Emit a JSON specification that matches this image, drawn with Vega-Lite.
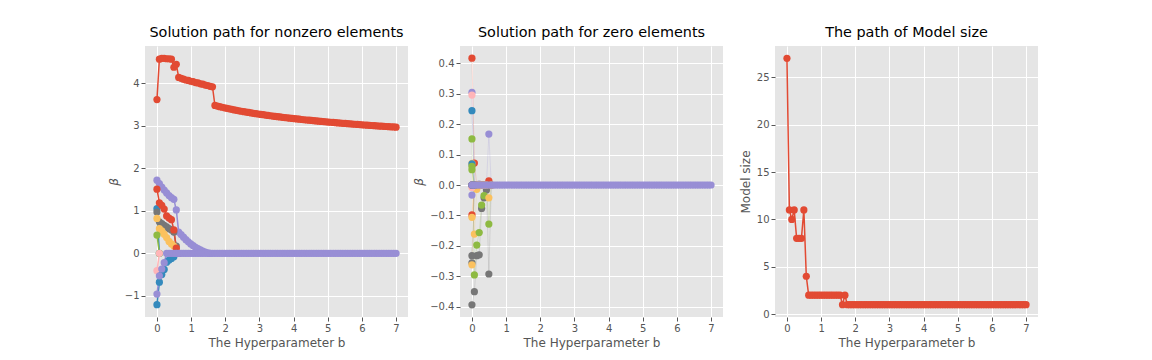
{
"$schema": "https://vega.github.io/schema/vega-lite/v6.json",
"background": "white",
"padding": {"left": 107, "top": 24, "right": 5, "bottom": 5},
"config": {
 "font": "DejaVu Sans",
 "view": {"fill": "#E5E5E5", "stroke": null},
 "axis": {"grid": true, "gridColor": "white", "gridWidth": 1, "domain": false, "tickColor": "#555555", "tickSize": 4, "tickWidth": 1, "labelColor": "#555555", "labelFontSize": 10, "labelPadding": 2, "titleColor": "#555555", "titleFontSize": 12, "titleFontWeight": "normal", "labelFont": "DejaVu Sans", "titleFont": "DejaVu Sans", "titlePadding": 4},
 "title": {"fontSize": 14.4, "fontWeight": "normal", "font": "DejaVu Sans", "color": "black", "offset": 6}
},
"datasets": {
 "nz": [
  {"k":0,"x":0,"y":3.62},{"k":0,"x":0.071,"y":4.57},{"k":0,"x":0.141,"y":4.59},{"k":0,"x":0.212,"y":4.59},{"k":0,"x":0.283,"y":4.58},{"k":0,"x":0.354,"y":4.58},{"k":0,"x":0.424,"y":4.57},{"k":0,"x":0.495,"y":4.38},{"k":0,"x":0.566,"y":4.45},{"k":0,"x":0.636,"y":4.14},
  {"k":0,"x":0.707,"y":4.12},{"k":0,"x":0.778,"y":4.1},{"k":0,"x":0.848,"y":4.08},{"k":0,"x":0.919,"y":4.07},{"k":0,"x":0.99,"y":4.05},{"k":0,"x":1.061,"y":4.04},{"k":0,"x":1.131,"y":4.02},{"k":0,"x":1.202,"y":4.01},{"k":0,"x":1.273,"y":3.99},{"k":0,"x":1.343,"y":3.98},
  {"k":0,"x":1.414,"y":3.96},{"k":0,"x":1.485,"y":3.95},{"k":0,"x":1.556,"y":3.93},{"k":0,"x":1.626,"y":3.92},{"k":0,"x":1.697,"y":3.48},{"k":0,"x":1.768,"y":3.465},{"k":0,"x":1.838,"y":3.451},{"k":0,"x":1.909,"y":3.438},{"k":0,"x":1.98,"y":3.424},{"k":0,"x":2.051,"y":3.412},
  {"k":0,"x":2.121,"y":3.4},{"k":0,"x":2.192,"y":3.388},{"k":0,"x":2.263,"y":3.376},{"k":0,"x":2.333,"y":3.365},{"k":0,"x":2.404,"y":3.355},{"k":0,"x":2.475,"y":3.344},{"k":0,"x":2.545,"y":3.334},{"k":0,"x":2.616,"y":3.324},{"k":0,"x":2.687,"y":3.315},{"k":0,"x":2.758,"y":3.305},
  {"k":0,"x":2.828,"y":3.296},{"k":0,"x":2.899,"y":3.287},{"k":0,"x":2.97,"y":3.279},{"k":0,"x":3.04,"y":3.27},{"k":0,"x":3.111,"y":3.262},{"k":0,"x":3.182,"y":3.254},{"k":0,"x":3.253,"y":3.246},{"k":0,"x":3.323,"y":3.238},{"k":0,"x":3.394,"y":3.23},{"k":0,"x":3.465,"y":3.223},
  {"k":0,"x":3.535,"y":3.216},{"k":0,"x":3.606,"y":3.209},{"k":0,"x":3.677,"y":3.202},{"k":0,"x":3.747,"y":3.195},{"k":0,"x":3.818,"y":3.188},{"k":0,"x":3.889,"y":3.181},{"k":0,"x":3.96,"y":3.175},{"k":0,"x":4.03,"y":3.169},{"k":0,"x":4.101,"y":3.162},{"k":0,"x":4.172,"y":3.156},
  {"k":0,"x":4.242,"y":3.15},{"k":0,"x":4.313,"y":3.144},{"k":0,"x":4.384,"y":3.138},{"k":0,"x":4.455,"y":3.133},{"k":0,"x":4.525,"y":3.127},{"k":0,"x":4.596,"y":3.121},{"k":0,"x":4.667,"y":3.116},{"k":0,"x":4.737,"y":3.11},{"k":0,"x":4.808,"y":3.105},{"k":0,"x":4.879,"y":3.1},
  {"k":0,"x":4.949,"y":3.095},{"k":0,"x":5.02,"y":3.09},{"k":0,"x":5.091,"y":3.085},{"k":0,"x":5.162,"y":3.08},{"k":0,"x":5.232,"y":3.075},{"k":0,"x":5.303,"y":3.07},{"k":0,"x":5.374,"y":3.065},{"k":0,"x":5.444,"y":3.06},{"k":0,"x":5.515,"y":3.056},{"k":0,"x":5.586,"y":3.051},
  {"k":0,"x":5.657,"y":3.047},{"k":0,"x":5.727,"y":3.042},{"k":0,"x":5.798,"y":3.038},{"k":0,"x":5.869,"y":3.033},{"k":0,"x":5.939,"y":3.029},{"k":0,"x":6.01,"y":3.025},{"k":0,"x":6.081,"y":3.02},{"k":0,"x":6.152,"y":3.016},{"k":0,"x":6.222,"y":3.012},{"k":0,"x":6.293,"y":3.008},
  {"k":0,"x":6.364,"y":3.004},{"k":0,"x":6.434,"y":3.0},{"k":0,"x":6.505,"y":2.996},{"k":0,"x":6.576,"y":2.992},{"k":0,"x":6.646,"y":2.989},{"k":0,"x":6.717,"y":2.985},{"k":0,"x":6.788,"y":2.981},{"k":0,"x":6.859,"y":2.977},{"k":0,"x":6.929,"y":2.974},{"k":0,"x":7,"y":2.97},
  {"k":1,"x":0,"y":1.05},{"k":1,"x":0.071,"y":0},
  {"k":2,"x":0,"y":1.72},{"k":2,"x":0.071,"y":1.64},{"k":2,"x":0.141,"y":1.56},{"k":2,"x":0.212,"y":1.49},{"k":2,"x":0.283,"y":1.42},{"k":2,"x":0.354,"y":1.36},{"k":2,"x":0.424,"y":1.31},{"k":2,"x":0.495,"y":1.27},{"k":2,"x":0.566,"y":1.02},{"k":2,"x":0.636,"y":0.5},
  {"k":2,"x":0.707,"y":0.44},{"k":2,"x":0.778,"y":0.38},{"k":2,"x":0.848,"y":0.32},{"k":2,"x":0.919,"y":0.27},{"k":2,"x":0.99,"y":0.22},{"k":2,"x":1.061,"y":0.18},{"k":2,"x":1.131,"y":0.14},{"k":2,"x":1.202,"y":0.11},{"k":2,"x":1.273,"y":0.08},{"k":2,"x":1.343,"y":0.05},
  {"k":2,"x":1.414,"y":0.03},{"k":2,"x":1.485,"y":0.01},{"k":2,"x":1.556,"y":0},
  {"k":3,"x":0,"y":0.97},{"k":3,"x":0.071,"y":0.74},{"k":3,"x":0.141,"y":0.7},{"k":3,"x":0.212,"y":0.66},{"k":3,"x":0.283,"y":0.62},{"k":3,"x":0.354,"y":0.58},{"k":3,"x":0.424,"y":0.55},{"k":3,"x":0.495,"y":0.5},{"k":3,"x":0.566,"y":0.17},{"k":3,"x":0.636,"y":0},
  {"k":4,"x":0,"y":0.82},{"k":4,"x":0.071,"y":0.58},{"k":4,"x":0.141,"y":0.53},{"k":4,"x":0.212,"y":0.45},{"k":4,"x":0.283,"y":0.37},{"k":4,"x":0.354,"y":0.28},{"k":4,"x":0.424,"y":0.22},{"k":4,"x":0.495,"y":0.17},{"k":4,"x":0.566,"y":0},
  {"k":5,"x":0,"y":0.43},{"k":5,"x":0.071,"y":0},
  {"k":6,"x":0,"y":-0.41},{"k":6,"x":0.071,"y":0},
  {"k":7,"x":0,"y":1.51},{"k":7,"x":0.071,"y":1.19},{"k":7,"x":0.141,"y":1.13},{"k":7,"x":0.212,"y":1.04},{"k":7,"x":0.283,"y":0.88},{"k":7,"x":0.354,"y":0.83},{"k":7,"x":0.424,"y":0.79},{"k":7,"x":0.495,"y":0.55},{"k":7,"x":0.566,"y":0.12},{"k":7,"x":0.636,"y":0},
  {"k":8,"x":0,"y":-1.21},{"k":8,"x":0.071,"y":-0.68},{"k":8,"x":0.141,"y":-0.5},{"k":8,"x":0.212,"y":-0.38},{"k":8,"x":0.283,"y":-0.21},{"k":8,"x":0.354,"y":-0.16},{"k":8,"x":0.424,"y":-0.12},{"k":8,"x":0.495,"y":-0.08},{"k":8,"x":0.566,"y":0},
  {"k":9,"x":0,"y":-0.96},{"k":9,"x":0.071,"y":-0.53},{"k":9,"x":0.141,"y":-0.37},{"k":9,"x":0.212,"y":-0.22},{"k":9,"x":0.283,"y":0},{"k":9,"x":0.354,"y":0},{"k":9,"x":0.424,"y":0},{"k":9,"x":0.495,"y":0},{"k":9,"x":0.566,"y":0},{"k":9,"x":0.636,"y":0},
  {"k":9,"x":0.707,"y":0},{"k":9,"x":0.778,"y":0},{"k":9,"x":0.848,"y":0},{"k":9,"x":0.919,"y":0},{"k":9,"x":0.99,"y":0},{"k":9,"x":1.061,"y":0},{"k":9,"x":1.131,"y":0},{"k":9,"x":1.202,"y":0},{"k":9,"x":1.273,"y":0},{"k":9,"x":1.343,"y":0},
  {"k":9,"x":1.414,"y":0},{"k":9,"x":1.485,"y":0},{"k":9,"x":1.556,"y":0},{"k":9,"x":1.626,"y":0},{"k":9,"x":1.697,"y":0},{"k":9,"x":1.768,"y":0},{"k":9,"x":1.838,"y":0},{"k":9,"x":1.909,"y":0},{"k":9,"x":1.98,"y":0},{"k":9,"x":2.051,"y":0},
  {"k":9,"x":2.121,"y":0},{"k":9,"x":2.192,"y":0},{"k":9,"x":2.263,"y":0},{"k":9,"x":2.333,"y":0},{"k":9,"x":2.404,"y":0},{"k":9,"x":2.475,"y":0},{"k":9,"x":2.545,"y":0},{"k":9,"x":2.616,"y":0},{"k":9,"x":2.687,"y":0},{"k":9,"x":2.758,"y":0},
  {"k":9,"x":2.828,"y":0},{"k":9,"x":2.899,"y":0},{"k":9,"x":2.97,"y":0},{"k":9,"x":3.04,"y":0},{"k":9,"x":3.111,"y":0},{"k":9,"x":3.182,"y":0},{"k":9,"x":3.253,"y":0},{"k":9,"x":3.323,"y":0},{"k":9,"x":3.394,"y":0},{"k":9,"x":3.465,"y":0},
  {"k":9,"x":3.535,"y":0},{"k":9,"x":3.606,"y":0},{"k":9,"x":3.677,"y":0},{"k":9,"x":3.747,"y":0},{"k":9,"x":3.818,"y":0},{"k":9,"x":3.889,"y":0},{"k":9,"x":3.96,"y":0},{"k":9,"x":4.03,"y":0},{"k":9,"x":4.101,"y":0},{"k":9,"x":4.172,"y":0},
  {"k":9,"x":4.242,"y":0},{"k":9,"x":4.313,"y":0},{"k":9,"x":4.384,"y":0},{"k":9,"x":4.455,"y":0},{"k":9,"x":4.525,"y":0},{"k":9,"x":4.596,"y":0},{"k":9,"x":4.667,"y":0},{"k":9,"x":4.737,"y":0},{"k":9,"x":4.808,"y":0},{"k":9,"x":4.879,"y":0},
  {"k":9,"x":4.949,"y":0},{"k":9,"x":5.02,"y":0},{"k":9,"x":5.091,"y":0},{"k":9,"x":5.162,"y":0},{"k":9,"x":5.232,"y":0},{"k":9,"x":5.303,"y":0},{"k":9,"x":5.374,"y":0},{"k":9,"x":5.444,"y":0},{"k":9,"x":5.515,"y":0},{"k":9,"x":5.586,"y":0},
  {"k":9,"x":5.657,"y":0},{"k":9,"x":5.727,"y":0},{"k":9,"x":5.798,"y":0},{"k":9,"x":5.869,"y":0},{"k":9,"x":5.939,"y":0},{"k":9,"x":6.01,"y":0},{"k":9,"x":6.081,"y":0},{"k":9,"x":6.152,"y":0},{"k":9,"x":6.222,"y":0},{"k":9,"x":6.293,"y":0},
  {"k":9,"x":6.364,"y":0},{"k":9,"x":6.434,"y":0},{"k":9,"x":6.505,"y":0},{"k":9,"x":6.576,"y":0},{"k":9,"x":6.646,"y":0},{"k":9,"x":6.717,"y":0},{"k":9,"x":6.788,"y":0},{"k":9,"x":6.859,"y":0},{"k":9,"x":6.929,"y":0},{"k":9,"x":7,"y":0}
 ],
 "z": [
  {"k":0,"x":0,"y":0.416},{"k":0,"x":0.071,"y":0.072},{"k":0,"x":0.141,"y":0},
  {"k":1,"x":0,"y":0.244},{"k":1,"x":0.071,"y":0},
  {"k":2,"x":0,"y":0.304},{"k":2,"x":0.071,"y":0},
  {"k":3,"x":0,"y":-0.393},{"k":3,"x":0.071,"y":-0.35},{"k":3,"x":0.141,"y":-0.232},{"k":3,"x":0.212,"y":-0.229},{"k":3,"x":0.283,"y":-0.077},{"k":3,"x":0.354,"y":-0.042},{"k":3,"x":0.424,"y":-0.016},{"k":3,"x":0.495,"y":0},
  {"k":4,"x":0,"y":0.071},{"k":4,"x":0.071,"y":-0.161},{"k":4,"x":0.141,"y":-0.014},{"k":4,"x":0.212,"y":0},
  {"k":5,"x":0,"y":0.151},{"k":5,"x":0.071,"y":-0.295},{"k":5,"x":0.141,"y":-0.197},{"k":5,"x":0.212,"y":-0.156},{"k":5,"x":0.283,"y":-0.066},{"k":5,"x":0.354,"y":-0.035},{"k":5,"x":0.424,"y":0},{"k":5,"x":0.495,"y":-0.128},{"k":5,"x":0.566,"y":0},
  {"k":6,"x":0,"y":0.295},{"k":6,"x":0.071,"y":0},
  {"k":7,"x":0,"y":-0.098},{"k":7,"x":0.071,"y":0},{"k":7,"x":0.141,"y":0},{"k":7,"x":0.212,"y":0},{"k":7,"x":0.283,"y":0},{"k":7,"x":0.354,"y":0},{"k":7,"x":0.424,"y":0},{"k":7,"x":0.495,"y":0.014},{"k":7,"x":0.566,"y":0},
  {"k":8,"x":0,"y":0.069},{"k":8,"x":0.071,"y":0},
  {"k":9,"x":0,"y":-0.033},{"k":9,"x":0.071,"y":0},{"k":9,"x":0.141,"y":0},{"k":9,"x":0.212,"y":0.003},{"k":9,"x":0.283,"y":0},{"k":9,"x":0.354,"y":0},{"k":9,"x":0.424,"y":0},{"k":9,"x":0.495,"y":0.167},{"k":9,"x":0.566,"y":0},
  {"k":10,"x":0,"y":-0.232},{"k":10,"x":0.071,"y":0},{"k":10,"x":0.141,"y":0},{"k":10,"x":0.212,"y":0},{"k":10,"x":0.283,"y":0},{"k":10,"x":0.354,"y":0},{"k":10,"x":0.424,"y":0},{"k":10,"x":0.495,"y":-0.292},{"k":10,"x":0.566,"y":0},
  {"k":11,"x":0,"y":-0.106},{"k":11,"x":0.071,"y":0},{"k":11,"x":0.141,"y":0},{"k":11,"x":0.212,"y":0},{"k":11,"x":0.283,"y":0},{"k":11,"x":0.354,"y":0},{"k":11,"x":0.424,"y":0},{"k":11,"x":0.495,"y":-0.042},{"k":11,"x":0.566,"y":0},
  {"k":12,"x":0,"y":0.061},{"k":12,"x":0.071,"y":0},
  {"k":13,"x":0,"y":-0.008},{"k":13,"x":0.071,"y":0},
  {"k":14,"x":0,"y":0},{"k":14,"x":0.071,"y":0},
  {"k":15,"x":0,"y":0},{"k":15,"x":0.071,"y":0},
  {"k":16,"x":0,"y":0},{"k":16,"x":0.071,"y":0},
  {"k":17,"x":0,"y":-0.255},{"k":17,"x":0.071,"y":0},
  {"k":18,"x":0,"y":-0.262},{"k":18,"x":0.071,"y":0},
  {"k":19,"x":0,"y":0.05},{"k":19,"x":0.071,"y":0},
  {"k":20,"x":0,"y":0},{"k":20,"x":0.071,"y":0},
  {"k":21,"x":0,"y":0},{"k":21,"x":0.071,"y":0},
  {"k":22,"x":0,"y":0},{"k":22,"x":0.071,"y":0},
  {"k":23,"x":0,"y":0},{"k":23,"x":0.071,"y":0},{"k":23,"x":0.141,"y":0},{"k":23,"x":0.212,"y":0},{"k":23,"x":0.283,"y":0},{"k":23,"x":0.354,"y":0},{"k":23,"x":0.424,"y":0},{"k":23,"x":0.495,"y":0},{"k":23,"x":0.566,"y":0},{"k":23,"x":0.636,"y":0},
  {"k":23,"x":0.707,"y":0},{"k":23,"x":0.778,"y":0},{"k":23,"x":0.848,"y":0},{"k":23,"x":0.919,"y":0},{"k":23,"x":0.99,"y":0},{"k":23,"x":1.061,"y":0},{"k":23,"x":1.131,"y":0},{"k":23,"x":1.202,"y":0},{"k":23,"x":1.273,"y":0},{"k":23,"x":1.343,"y":0},
  {"k":23,"x":1.414,"y":0},{"k":23,"x":1.485,"y":0},{"k":23,"x":1.556,"y":0},{"k":23,"x":1.626,"y":0},{"k":23,"x":1.697,"y":0},{"k":23,"x":1.768,"y":0},{"k":23,"x":1.838,"y":0},{"k":23,"x":1.909,"y":0},{"k":23,"x":1.98,"y":0},{"k":23,"x":2.051,"y":0},
  {"k":23,"x":2.121,"y":0},{"k":23,"x":2.192,"y":0},{"k":23,"x":2.263,"y":0},{"k":23,"x":2.333,"y":0},{"k":23,"x":2.404,"y":0},{"k":23,"x":2.475,"y":0},{"k":23,"x":2.545,"y":0},{"k":23,"x":2.616,"y":0},{"k":23,"x":2.687,"y":0},{"k":23,"x":2.758,"y":0},
  {"k":23,"x":2.828,"y":0},{"k":23,"x":2.899,"y":0},{"k":23,"x":2.97,"y":0},{"k":23,"x":3.04,"y":0},{"k":23,"x":3.111,"y":0},{"k":23,"x":3.182,"y":0},{"k":23,"x":3.253,"y":0},{"k":23,"x":3.323,"y":0},{"k":23,"x":3.394,"y":0},{"k":23,"x":3.465,"y":0},
  {"k":23,"x":3.535,"y":0},{"k":23,"x":3.606,"y":0},{"k":23,"x":3.677,"y":0},{"k":23,"x":3.747,"y":0},{"k":23,"x":3.818,"y":0},{"k":23,"x":3.889,"y":0},{"k":23,"x":3.96,"y":0},{"k":23,"x":4.03,"y":0},{"k":23,"x":4.101,"y":0},{"k":23,"x":4.172,"y":0},
  {"k":23,"x":4.242,"y":0},{"k":23,"x":4.313,"y":0},{"k":23,"x":4.384,"y":0},{"k":23,"x":4.455,"y":0},{"k":23,"x":4.525,"y":0},{"k":23,"x":4.596,"y":0},{"k":23,"x":4.667,"y":0},{"k":23,"x":4.737,"y":0},{"k":23,"x":4.808,"y":0},{"k":23,"x":4.879,"y":0},
  {"k":23,"x":4.949,"y":0},{"k":23,"x":5.02,"y":0},{"k":23,"x":5.091,"y":0},{"k":23,"x":5.162,"y":0},{"k":23,"x":5.232,"y":0},{"k":23,"x":5.303,"y":0},{"k":23,"x":5.374,"y":0},{"k":23,"x":5.444,"y":0},{"k":23,"x":5.515,"y":0},{"k":23,"x":5.586,"y":0},
  {"k":23,"x":5.657,"y":0},{"k":23,"x":5.727,"y":0},{"k":23,"x":5.798,"y":0},{"k":23,"x":5.869,"y":0},{"k":23,"x":5.939,"y":0},{"k":23,"x":6.01,"y":0},{"k":23,"x":6.081,"y":0},{"k":23,"x":6.152,"y":0},{"k":23,"x":6.222,"y":0},{"k":23,"x":6.293,"y":0},
  {"k":23,"x":6.364,"y":0},{"k":23,"x":6.434,"y":0},{"k":23,"x":6.505,"y":0},{"k":23,"x":6.576,"y":0},{"k":23,"x":6.646,"y":0},{"k":23,"x":6.717,"y":0},{"k":23,"x":6.788,"y":0},{"k":23,"x":6.859,"y":0},{"k":23,"x":6.929,"y":0},{"k":23,"x":7,"y":0}
 ],
 "ms": [
  {"x":0,"y":27},{"x":0.071,"y":11},{"x":0.141,"y":10},{"x":0.212,"y":11},{"x":0.283,"y":8},{"x":0.354,"y":8},{"x":0.424,"y":8},{"x":0.495,"y":11},{"x":0.566,"y":4},{"x":0.636,"y":2},
  {"x":0.707,"y":2},{"x":0.778,"y":2},{"x":0.848,"y":2},{"x":0.919,"y":2},{"x":0.99,"y":2},{"x":1.061,"y":2},{"x":1.131,"y":2},{"x":1.202,"y":2},{"x":1.273,"y":2},{"x":1.343,"y":2},
  {"x":1.414,"y":2},{"x":1.485,"y":2},{"x":1.556,"y":2},{"x":1.626,"y":1},{"x":1.697,"y":2},{"x":1.768,"y":1},{"x":1.838,"y":1},{"x":1.909,"y":1},{"x":1.98,"y":1},{"x":2.051,"y":1},
  {"x":2.121,"y":1},{"x":2.192,"y":1},{"x":2.263,"y":1},{"x":2.333,"y":1},{"x":2.404,"y":1},{"x":2.475,"y":1},{"x":2.545,"y":1},{"x":2.616,"y":1},{"x":2.687,"y":1},{"x":2.758,"y":1},
  {"x":2.828,"y":1},{"x":2.899,"y":1},{"x":2.97,"y":1},{"x":3.04,"y":1},{"x":3.111,"y":1},{"x":3.182,"y":1},{"x":3.253,"y":1},{"x":3.323,"y":1},{"x":3.394,"y":1},{"x":3.465,"y":1},
  {"x":3.535,"y":1},{"x":3.606,"y":1},{"x":3.677,"y":1},{"x":3.747,"y":1},{"x":3.818,"y":1},{"x":3.889,"y":1},{"x":3.96,"y":1},{"x":4.03,"y":1},{"x":4.101,"y":1},{"x":4.172,"y":1},
  {"x":4.242,"y":1},{"x":4.313,"y":1},{"x":4.384,"y":1},{"x":4.455,"y":1},{"x":4.525,"y":1},{"x":4.596,"y":1},{"x":4.667,"y":1},{"x":4.737,"y":1},{"x":4.808,"y":1},{"x":4.879,"y":1},
  {"x":4.949,"y":1},{"x":5.02,"y":1},{"x":5.091,"y":1},{"x":5.162,"y":1},{"x":5.232,"y":1},{"x":5.303,"y":1},{"x":5.374,"y":1},{"x":5.444,"y":1},{"x":5.515,"y":1},{"x":5.586,"y":1},
  {"x":5.657,"y":1},{"x":5.727,"y":1},{"x":5.798,"y":1},{"x":5.869,"y":1},{"x":5.939,"y":1},{"x":6.01,"y":1},{"x":6.081,"y":1},{"x":6.152,"y":1},{"x":6.222,"y":1},{"x":6.293,"y":1},
  {"x":6.364,"y":1},{"x":6.434,"y":1},{"x":6.505,"y":1},{"x":6.576,"y":1},{"x":6.646,"y":1},{"x":6.717,"y":1},{"x":6.788,"y":1},{"x":6.859,"y":1},{"x":6.929,"y":1},{"x":7,"y":1}
 ]
},
"spacing": 52,
"bounds": "flush",
"resolve": {"scale": {"color": "independent", "x": "independent", "y": "independent"}},
"hconcat": [
 {
  "title": "Solution path for nonzero elements",
  "width": 263, "height": 271,
  "data": {"name": "nz"},
  "encoding": {
   "x": {"field": "x", "type": "quantitative", "scale": {"domain": [-0.35, 7.35], "nice": false, "zero": false}, "axis": {"title": "The Hyperparameter b", "values": [0,1,2,3,4,5,6,7], "format": "d"}},
   "y": {"field": "y", "type": "quantitative", "scale": {"domain": [-1.5, 4.88], "nice": false, "zero": false}, "axis": {"title": "β", "values": [-1,0,1,2,3,4], "format": "d", "titleFontStyle": "italic"}},
   "color": {"field": "k", "type": "nominal", "scale": {"domain": [0,1,2,3,4,5,6,7,8,9], "range": ["#E24A33","#348ABD","#988ED5","#777777","#FBC15E","#8EBA42","#FFB5B8","#E24A33","#348ABD","#988ED5"]}, "legend": null}
  },
  "layer": [
   {"mark": {"type": "line", "strokeWidth": 1.5}, "encoding": {"detail": {"field": "k", "type": "nominal"}}},
   {"mark": {"type": "point", "filled": true, "size": 52, "opacity": 1}}
  ]
 },
 {
  "title": "Solution path for zero elements",
  "width": 263, "height": 271,
  "data": {"name": "z"},
  "encoding": {
   "x": {"field": "x", "type": "quantitative", "scale": {"domain": [-0.35, 7.35], "nice": false, "zero": false}, "axis": {"title": "The Hyperparameter b", "values": [0,1,2,3,4,5,6,7], "format": "d"}},
   "y": {"field": "y", "type": "quantitative", "scale": {"domain": [-0.433, 0.456], "nice": false, "zero": false}, "axis": {"title": "β", "values": [-0.4,-0.3,-0.2,-0.1,0,0.1,0.2,0.3,0.4], "format": ".1f", "titleFontStyle": "italic"}},
   "color": {"field": "k", "type": "nominal", "scale": {"domain": [0,1,2,3,4,5,6,7,8,9,10,11,12,13,14,15,16,17,18,19,20,21,22,23], "range": ["#E24A33","#348ABD","#988ED5","#777777","#FBC15E","#8EBA42","#FFB5B8","#E24A33","#348ABD","#988ED5","#777777","#FBC15E","#8EBA42","#FFB5B8","#E24A33","#348ABD","#988ED5","#777777","#FBC15E","#8EBA42","#FFB5B8","#E24A33","#348ABD","#988ED5"]}, "legend": null}
  },
  "layer": [
   {"mark": {"type": "line", "strokeWidth": 1, "opacity": 0.2}, "encoding": {"detail": {"field": "k", "type": "nominal"}}},
   {"mark": {"type": "point", "filled": true, "size": 52, "opacity": 1}}
  ]
 },
 {
  "title": "The path of Model size",
  "width": 263, "height": 271,
  "data": {"name": "ms"},
  "encoding": {
   "x": {"field": "x", "type": "quantitative", "scale": {"domain": [-0.35, 7.35], "nice": false, "zero": false}, "axis": {"title": "The Hyperparameter b", "values": [0,1,2,3,4,5,6,7], "format": "d"}},
   "y": {"field": "y", "type": "quantitative", "scale": {"domain": [-0.3, 28.3], "nice": false, "zero": false}, "axis": {"title": "Model size", "values": [0,5,10,15,20,25], "format": "d"}}
  },
  "layer": [
   {"mark": {"type": "line", "strokeWidth": 1.5, "color": "#E24A33"}, "encoding": {}},
   {"mark": {"type": "point", "filled": true, "size": 52, "opacity": 1, "color": "#E24A33"}}
  ]
 }
]
}
